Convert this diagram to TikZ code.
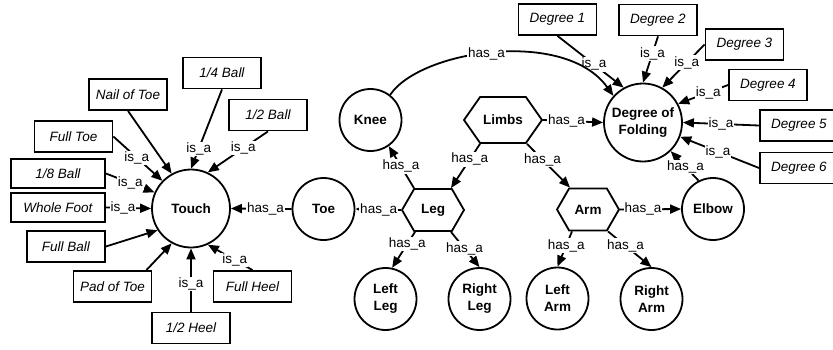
\documentclass[tikz,border=0pt]{standalone}
\usepackage{fontspec}
\setmainfont{Liberation Sans}
\usetikzlibrary{shapes.symbols,arrows.meta}
\newcommand\dfont{\fontsize{13.5}{17}\selectfont}
\begin{document}
\begin{tikzpicture}[x=1pt,y=-1pt,font=\dfont,
  box/.style={draw, line width=1.8pt, minimum width=78pt, minimum height=31pt, inner sep=0pt, font=\dfont\itshape},
  wbox/.style={box, minimum width=94pt, minimum height=29pt},
  cnode/.style={draw, circle, line width=1.8pt, minimum size=62pt, inner sep=0pt, align=center, font=\dfont\bfseries},
  bignode/.style={cnode, minimum size=78pt},
  hexa/.style={draw, shape=signal, signal to=west and east, signal pointer angle=120, line width=1.8pt, minimum width=62pt, minimum height=42pt, inner sep=0pt, font=\dfont\bfseries},
  link/.style={draw, line width=1.8pt, -{Triangle[length=11pt,width=9pt]}},
  lbl/.style={fill=white, inner sep=1pt, font=\dfont}
]
\useasboundingbox (0,0) rectangle (833,349);
% touch cluster
\node[bignode] (touch) at (191,208.5) {Touch};
\node[box] (nail) at (128,94.5) {Nail of Toe};
\node[box] (qball) at (222,73) {1/4 Ball};
\node[box] (hball) at (268,115) {1/2 Ball};
\node[box] (fulltoe) at (73.5,136.5) {Full Toe};
\node[wbox] (eball) at (58,173.5) {1/8 Ball};
\node[wbox] (whole) at (58,207.5) {Whole Foot};
\node[box] (fullball) at (66,246.5) {Full Ball};
\node[box] (pad) at (112.5,286.5) {Pad of Toe};
\node[box] (hheel) at (191,328) {1/2 Heel};
\node[box] (fullheel) at (252.5,286.5) {Full Heel};
% middle
\node[cnode] (toe) at (323.5,209) {Toe};
\node[cnode] (knee) at (370.5,120) {Knee};
\node[hexa, signal pointer angle=110, minimum width=78pt, minimum height=46pt] (limbs) at (503,120) {Limbs};
\node[hexa] (leg) at (433,210) {Leg};
\node[cnode] (lleg) at (385.5,299) {Left\\Leg};
\node[cnode] (rleg) at (479.5,299) {Right\\Leg};
% right
\node[bignode] (dof) at (643,122.5) {Degree of\\Folding};
\node[box] (d1) at (557.5,19.5) {Degree 1};
\node[box] (d2) at (658,20) {Degree 2};
\node[box] (d3) at (744.5,44.5) {Degree 3};
\node[box] (d4) at (768,85) {Degree 4};
\node[box] (d5) at (799,125.5) {Degree 5};
\node[box] (d6) at (799,168) {Degree 6};
\node[hexa] (arm) at (588,209.5) {Arm};
\node[cnode] (elbow) at (713,209) {Elbow};
\node[cnode] (larm) at (557.5,298.5) {Left\\Arm};
\node[cnode] (rarm) at (651.5,299) {Right\\Arm};
% touch edges
\draw[link] (nail.south) -- (touch.119);
\draw[link] (qball.south) -- node[lbl,pos=0.75]{is\_a} (touch.90);
\draw[link] (hball.south) -- node[lbl,pos=0.41]{is\_a} (touch.65);
\draw[link] (fulltoe.east) -- node[lbl,pos=0.48]{is\_a} (touch.136);
\draw[link] (eball.east) -- node[lbl,pos=0.5]{is\_a} (touch.156);
\draw[link] (whole.east) -- node[lbl,pos=0.38]{is\_a} (touch.west);
\draw[link] (fullball.east) -- (touch.213);
\draw[link] ([xshift=-6pt]pad.north east) -- (touch.241);
\draw[link] (hheel.north) -- node[lbl,pos=0.44]{is\_a} (touch.south);
\draw[link] (fullheel.north) -- node[lbl,pos=0.4]{is\_a} (touch.295);
\draw[link] (toe.west) -- node[lbl,pos=0.43]{has\_a} (touch.east);
% middle edges
\draw[link] ([xshift=-19pt]leg.north) -- node[lbl,pos=0.52]{has\_a} (knee.305);
\draw[link] ([xshift=-23pt]limbs.south) -- node[lbl,pos=0.35]{has\_a} ([xshift=18pt]leg.north);
\draw[link] ([xshift=24pt]limbs.south) -- node[lbl,pos=0.36]{has\_a} ([xshift=-18pt]arm.north);
\draw[link] (leg.west) -- node[lbl,pos=0.49]{has\_a} (toe.east);
\draw[link] ([xshift=-18pt]leg.south) -- node[lbl,pos=0.34]{has\_a} (lleg.78);
\draw[link] ([xshift=18pt]leg.south) -- node[lbl,pos=0.47]{has\_a} (rleg.north);
\draw[link] (arm.east) -- node[lbl,pos=0.375]{has\_a} (elbow.west);
\draw[link] ([xshift=-16pt]arm.south) -- node[lbl,pos=0.4]{has\_a} (larm.north);
\draw[link] ([xshift=20pt]arm.south) -- node[lbl,pos=0.4]{has\_a} (rarm.north);
% right edges
\draw[link] (d1.south) -- node[lbl,pos=0.55]{is\_a} (dof.119);
\draw[link] (d2.south) -- node[lbl,pos=0.37]{is\_a} (dof.north);
\draw[link] (d3.west) -- node[lbl,pos=0.42]{is\_a} (dof.61);
\draw[link] (d4.west) -- node[lbl,pos=0.4]{is\_a} (dof.28);
\draw[link] (d5.west) -- node[lbl,pos=0.5]{is\_a} (dof.east);
\draw[link] (d6.west) -- node[lbl,pos=0.52]{is\_a} (dof.339);
\draw[link] (elbow.117) -- node[lbl,pos=0.47]{has\_a} (dof.314);
\draw[link] (limbs.east) -- node[lbl,pos=0.39]{has\_a} (dof.west);
\draw[link] (knee.52) .. controls (420,50) and (565,28) .. node[lbl,pos=0.47]{has\_a} (dof.138);
\end{tikzpicture}
\end{document}
